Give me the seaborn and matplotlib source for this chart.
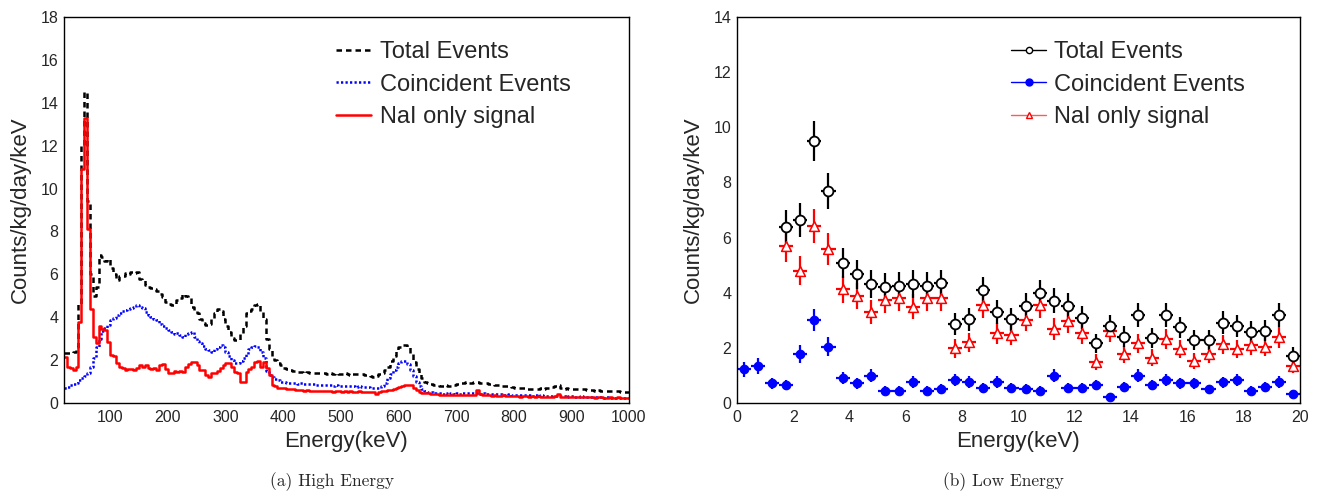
import numpy as np
import pandas as pd
import matplotlib
matplotlib.use("Agg")
import matplotlib.pyplot as plt
from matplotlib.ticker import MultipleLocator
from matplotlib.lines import Line2D
import seaborn as sns

# ---------------- data: high energy (5 keV bins, 20-1000 keV) ----------------
he_start, he_stop, he_width = 20, 1000, 5
he_total = [
    2.35, 2.35, 2.35, 2.4, 2.6, 4.6, 12.0, 14.5, 9.4, 6.0,
    5.0, 5.4, 6.9, 6.8, 6.6, 6.7, 6.3, 6.0, 5.75, 5.9,
    5.9, 6.05, 6.0, 6.1, 6.05, 6.1, 5.8, 5.75, 5.5, 5.4,
    5.35, 5.3, 5.2, 5.1, 4.95, 4.7, 4.6, 4.55, 4.6, 4.8,
    4.9, 5.1, 5.0, 4.9, 4.5, 4.3, 4.2, 3.9, 3.75, 3.65,
    3.7, 3.9, 4.2, 4.4, 4.3, 3.9, 3.6, 3.3, 3.05, 2.95,
    2.95, 3.2, 3.6, 4.2, 4.3, 4.4, 4.55, 4.6, 4.3, 3.9,
    3.0, 2.5, 2.2, 2.0, 1.85, 1.75, 1.65, 1.6, 1.55, 1.5,
    1.48, 1.45, 1.45, 1.42, 1.45, 1.40, 1.42, 1.38, 1.40, 1.38,
    1.38, 1.36, 1.40, 1.35, 1.38, 1.33, 1.36, 1.38, 1.35, 1.32,
    1.36, 1.35, 1.33, 1.36, 1.30, 1.32, 1.28, 1.22, 1.25, 1.35,
    1.38, 1.55, 1.7, 1.95, 2.2, 2.45, 2.6, 2.7, 2.7, 2.6,
    2.3, 1.9, 1.6, 1.35, 1.15, 1.0, 0.92, 0.88, 0.85, 0.84,
    0.80, 0.80, 0.82, 0.78, 0.80, 0.85, 0.88, 0.92, 0.95, 0.98,
    0.95, 0.92, 0.96, 0.99, 0.95, 0.92, 0.94, 0.90, 0.88, 0.85,
    0.84, 0.82, 0.80, 0.78, 0.80, 0.76, 0.72, 0.70, 0.68, 0.70,
    0.66, 0.67, 0.65, 0.64, 0.66, 0.68, 0.65, 0.70, 0.72, 0.74,
    0.78, 0.84, 0.72, 0.66, 0.68, 0.65, 0.67, 0.64, 0.66, 0.63,
    0.64, 0.62, 0.60, 0.61, 0.58, 0.60, 0.57, 0.58, 0.56, 0.55,
    0.56, 0.54, 0.55, 0.53, 0.52, 0.53,
]
he_coinc = [
    0.69, 0.75, 0.84, 0.88, 0.95, 1.05, 1.15, 1.25, 1.4, 1.7,
    2.1, 2.6, 3.0, 3.35, 3.5, 3.65, 3.85, 3.95, 4.1, 4.2,
    4.3, 4.35, 4.4, 4.45, 4.5, 4.55, 4.5, 4.45, 4.25, 4.1,
    4.0, 3.9, 3.85, 3.7, 3.6, 3.5, 3.4, 3.3, 3.2, 3.25,
    3.15, 3.1, 3.2, 3.25, 3.3, 3.1, 2.9, 2.8, 2.65, 2.5,
    2.45, 2.4, 2.5, 2.6, 2.7, 2.6, 2.4, 2.2, 2.0, 1.85,
    1.85, 1.95, 2.1, 2.3, 2.5, 2.6, 2.65, 2.6, 2.4, 2.1,
    1.5, 1.3, 1.2, 1.12, 1.05, 1.0, 0.98, 0.95, 0.93, 0.92,
    0.92, 0.90, 0.92, 0.88, 0.90, 0.87, 0.88, 0.85, 0.86, 0.84,
    0.85, 0.83, 0.84, 0.80, 0.82, 0.80, 0.81, 0.78, 0.80, 0.77,
    0.78, 0.76, 0.77, 0.75, 0.74, 0.75, 0.72, 0.70, 0.68, 0.72,
    0.8, 0.95, 1.15, 1.35, 1.55, 1.7, 1.85, 1.95, 1.95, 1.8,
    1.55, 1.25, 1.0, 0.8, 0.65, 0.58, 0.53, 0.50, 0.48, 0.46,
    0.45, 0.44, 0.46, 0.44, 0.45, 0.43, 0.45, 0.44, 0.46, 0.47,
    0.46, 0.48, 0.45, 0.47, 0.44, 0.46, 0.43, 0.42, 0.44, 0.41,
    0.40, 0.41, 0.39, 0.38, 0.40, 0.37, 0.38, 0.36, 0.37, 0.35,
    0.36, 0.35, 0.34, 0.36, 0.33, 0.35, 0.34, 0.32, 0.34, 0.33,
    0.32, 0.34, 0.31, 0.33, 0.30, 0.32, 0.31, 0.30, 0.29, 0.31,
    0.30, 0.28, 0.29, 0.27, 0.28, 0.26, 0.27, 0.25, 0.26, 0.25,
    0.24, 0.25, 0.23, 0.24, 0.23, 0.24,
]
he_nai = [
    2.15, 1.69, 1.62, 1.54, 1.69, 3.8, 10.9, 13.3, 8.1, 4.4,
    3.1, 2.8, 3.6, 3.45, 3.4, 2.85, 2.25, 2.2, 1.85, 1.7,
    1.65, 1.55, 1.58, 1.6, 1.55, 1.62, 1.75, 1.7, 1.77, 1.65,
    1.6, 1.62, 1.55, 1.75, 1.82, 1.6, 1.42, 1.38, 1.5, 1.46,
    1.5, 1.46, 1.7, 1.8, 1.9, 1.93, 1.75, 1.55, 1.55, 1.3,
    1.23, 1.38, 1.38, 1.5, 1.62, 1.77, 1.85, 1.85, 1.69, 1.46,
    1.38, 1.0, 1.0, 1.46, 1.6, 1.69, 1.93, 1.95, 1.69, 1.9,
    1.62, 1.31, 0.84, 0.78, 0.72, 0.69, 0.68, 0.66, 0.64, 0.63,
    0.62, 0.60, 0.61, 0.58, 0.60, 0.57, 0.58, 0.56, 0.57, 0.55,
    0.56, 0.54, 0.55, 0.53, 0.56, 0.54, 0.52, 0.54, 0.53, 0.55,
    0.53, 0.52, 0.54, 0.52, 0.53, 0.51, 0.52, 0.53, 0.42, 0.53,
    0.55, 0.58, 0.61, 0.60, 0.65, 0.69, 0.75, 0.80, 0.84, 0.84,
    0.82, 0.70, 0.61, 0.52, 0.47, 0.45, 0.45, 0.44, 0.42, 0.40,
    0.38, 0.37, 0.38, 0.36, 0.37, 0.38, 0.36, 0.37, 0.39, 0.37,
    0.38, 0.36, 0.37, 0.60, 0.40, 0.38, 0.35, 0.37, 0.34, 0.36,
    0.34, 0.33, 0.35, 0.32, 0.34, 0.31, 0.33, 0.32, 0.30, 0.32,
    0.31, 0.30, 0.32, 0.29, 0.31, 0.30, 0.29, 0.30, 0.28, 0.30,
    0.34, 0.42, 0.30, 0.28, 0.29, 0.27, 0.28, 0.27, 0.29, 0.27,
    0.28, 0.26, 0.27, 0.26, 0.25, 0.27, 0.26, 0.25, 0.24, 0.26,
    0.25, 0.24, 0.26, 0.25, 0.24, 0.25,
]

# ---------------- data: low energy (0.5 keV bins) ----------------
le_coinc_x = [0.25, 0.75, 1.25, 1.75, 2.25, 2.75, 3.25, 3.75, 4.25, 4.75,
              5.25, 5.75, 6.25, 6.75, 7.25, 7.75, 8.25, 8.75, 9.25, 9.75,
              10.25, 10.75, 11.25, 11.75, 12.25, 12.75, 13.25, 13.75, 14.25, 14.75,
              15.25, 15.75, 16.25, 16.75, 17.25, 17.75, 18.25, 18.75, 19.25, 19.75]
le_coinc = [1.22, 1.34, 0.71, 0.65, 1.78, 3.01, 2.04, 0.90, 0.71, 0.99,
            0.44, 0.44, 0.77, 0.44, 0.51, 0.83, 0.77, 0.56, 0.77, 0.56,
            0.51, 0.44, 0.99, 0.56, 0.56, 0.65, 0.23, 0.59, 0.99, 0.65,
            0.83, 0.71, 0.71, 0.50, 0.75, 0.83, 0.44, 0.57, 0.77, 0.33]
le_x = le_coinc_x[3:]
le_total = [6.40, 6.64, 9.50, 7.69, 5.07, 4.67, 4.32, 4.22, 4.26, 4.32,
            4.26, 4.34, 2.86, 3.03, 4.10, 3.31, 3.03, 3.53, 3.98, 3.71,
            3.53, 3.09, 2.16, 2.78, 2.41, 3.19, 2.35, 3.19, 2.74, 2.29,
            2.29, 2.91, 2.79, 2.59, 2.62, 3.19, 1.72]
le_nai = [5.69, 4.80, 6.42, 5.59, 4.13, 3.89, 3.29, 3.74, 3.80, 3.49,
          3.80, 3.80, 1.98, 2.20, 3.55, 2.53, 2.47, 3.01, 3.55, 2.68,
          2.97, 2.53, 1.50, 2.60, 1.76, 2.16, 1.64, 2.32, 1.96, 1.52,
          1.76, 2.13, 1.96, 2.10, 2.04, 2.38, 1.35]
le_half_bin = 0.25
poisson_scale = 0.24  # statistical error = scale * sqrt(rate)

labels = ["Total Events", "Coincident Events", "NaI only signal"]

# ---------------- style ----------------
sns.set_style("white")
plt.rcParams["font.family"] = ["Liberation Sans", "DejaVu Sans"]
plt.rcParams["axes.linewidth"] = 1.0

fig = plt.figure(figsize=(13.18, 4.94), dpi=100)
axL = fig.add_axes([64 / 1318, 1 - 403 / 494, 565 / 1318, 386 / 494])
axR = fig.add_axes([737 / 1318, 1 - 403 / 494, 563 / 1318, 386 / 494])

# ---------------- left: histograms ----------------
edges = np.arange(he_start, he_stop + he_width, he_width)
centers = edges[:-1] + he_width / 2
df_he = pd.DataFrame({"E": centers, "total": he_total, "coinc": he_coinc, "nai": he_nai})

styles = [
    ("total", "black", (0, (2.2, 1.6)), 1.8),
    ("coinc", "blue", (0, (0.9, 0.9)), 1.8),
    ("nai", "red", "-", 1.8),
]
for col, color, ls, lw in styles:
    sns.histplot(data=df_he, x="E", weights=col, binwidth=he_width,
                 binrange=(he_start, he_stop), element="step",
                 fill=False, color=color, linestyle=ls, linewidth=lw, ax=axL)

axL.set_xlim(he_start, he_stop)
axL.set_ylim(0, 18)
axL.xaxis.set_major_locator(MultipleLocator(100))
axL.xaxis.set_minor_locator(MultipleLocator(20))
axL.yaxis.set_major_locator(MultipleLocator(2))
axL.yaxis.set_minor_locator(MultipleLocator(0.5))

legend_kw = dict(loc="upper left", bbox_transform=fig.transFigure, frameon=False,
                 fontsize=17, handlelength=1.5, labelspacing=0.45, borderpad=0,
                 borderaxespad=0)

handlesL = [Line2D([0], [0], color=c, linestyle=ls, linewidth=lw) for _, c, ls, lw in styles]
axL.legend(handlesL, labels, bbox_to_anchor=(336 / 1318, 1 - 41 / 494),
           handletextpad=0.35, **legend_kw)

# ---------------- right: points with error bars ----------------
df_tot = pd.DataFrame({"E": le_x, "rate": le_total})
df_nai = pd.DataFrame({"E": le_x, "rate": le_nai})
df_coi = pd.DataFrame({"E": le_coinc_x, "rate": le_coinc})

for df, color in [(df_coi, "blue"), (df_nai, "red"), (df_tot, "black")]:
    axR.errorbar(df["E"], df["rate"], xerr=le_half_bin,
                 yerr=poisson_scale * np.sqrt(df["rate"]),
                 fmt="none", ecolor=color, elinewidth=1.6, capsize=0, zorder=2)

sns.scatterplot(data=df_coi, x="E", y="rate", marker="o", s=38, color="blue",
                edgecolor="blue", linewidth=0.8, ax=axR, zorder=3)
sns.scatterplot(data=df_nai, x="E", y="rate", marker="^", s=50, facecolor="white",
                edgecolor="red", linewidth=1.1, ax=axR, zorder=3)
sns.scatterplot(data=df_tot, x="E", y="rate", marker="o", s=50, facecolor="white",
                edgecolor="black", linewidth=1.3, ax=axR, zorder=4)

axR.set_xlim(0, 20)
axR.set_ylim(0, 14)
axR.xaxis.set_major_locator(MultipleLocator(2))
axR.xaxis.set_minor_locator(MultipleLocator(0.5))
axR.yaxis.set_major_locator(MultipleLocator(2))
axR.yaxis.set_minor_locator(MultipleLocator(0.5))

handlesR = [
    Line2D([0], [0], color="black", marker="o", mfc="white", mec="black", ms=4.5, mew=1.0, lw=1.0),
    Line2D([0], [0], color="blue", marker="o", mfc="blue", mec="blue", ms=5, lw=1.0),
    Line2D([0], [0], color="#ff5a5a", marker="^", mfc="white", mec="red", ms=5, mew=1.0, lw=1.0),
]
axR.legend(handlesR, labels, bbox_to_anchor=(1011 / 1318, 1 - 41 / 494),
           handletextpad=0.3, **legend_kw)

# ---------------- common axis styling ----------------
for ax in (axL, axR):
    ax.tick_params(which="both", direction="in", top=False, right=False,
                   color="black", width=1.0)
    ax.tick_params(axis="x", which="major", length=8.5, labelsize=11.5, pad=5)
    ax.tick_params(axis="x", which="minor", length=4.3)
    ax.tick_params(axis="y", which="major", length=10.5, labelsize=11.5, pad=4)
    ax.tick_params(axis="y", which="minor", length=5.5)
    ax.set_xlabel("Energy(keV)", fontsize=16, labelpad=4)
    ax.set_ylabel("Counts/kg/day/keV", fontsize=16, labelpad=7)
    for sp in ax.spines.values():
        sp.set_visible(True)
        sp.set_color("black")
        sp.set_linewidth(1.0)

fig.text(332 / 1318, 1 - 482 / 494, "(a) High Energy", family="cmr10", fontsize=12.5,
         ha="center", va="center")
fig.text(1003 / 1318, 1 - 482 / 494, "(b) Low Energy", family="cmr10", fontsize=12.5,
         ha="center", va="center")

fig.savefig("out.png", dpi=100)
